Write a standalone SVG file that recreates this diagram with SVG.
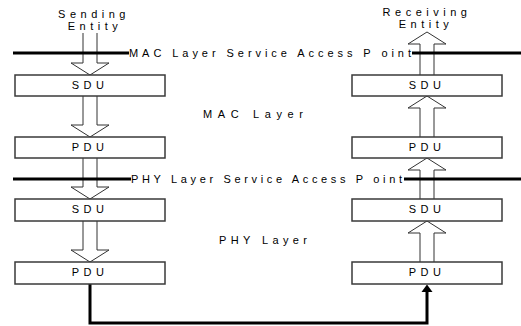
<svg xmlns="http://www.w3.org/2000/svg" width="521" height="326" viewBox="0 0 521 326">
<style>
text{font-family:"Liberation Sans",Arial,sans-serif;font-size:11px;fill:#000;}
.lbl{text-anchor:middle;letter-spacing:4.5px;}
.box{fill:#fff;stroke:#3a3a3a;stroke-width:1.5;}
.arr{fill:#fff;stroke:#333;stroke-width:1;}
.sap{stroke:#000;stroke-width:3;fill:none;}
.wire{stroke:#000;stroke-width:3;fill:none;}
</style>
<rect width="521" height="326" fill="#fff"/>
<g id="connectors">
<!-- left side, downward -->
<polyline class="arr" points="83,33 83,63 71,63 90,75 109,63 97,63 97,33"/>
<polyline class="arr" points="83,96 83,125 71,125 90,137 109,125 97,125 97,96"/>
<polyline class="arr" points="83,158 83,187 71,187 90,199 109,187 97,187 97,158"/>
<polyline class="arr" points="83,221 83,250 71,250 90,262 109,250 97,250 97,221"/>
<!-- right side, upward -->
<polyline class="arr" points="420,75 420,44 408,44 427,32 446,44 434,44 434,75"/>
<polyline class="arr" points="420,137 420,108 408,108 427,96 446,108 434,108 434,137"/>
<polyline class="arr" points="420,199 420,170 408,170 427,158 446,170 434,170 434,199"/>
<polyline class="arr" points="420,262 420,233 408,233 427,221 446,233 434,233 434,262"/>
<!-- physical link -->
<path class="wire" d="M90,284 V323 H427 V291"/>
<path d="M421.5,292 L427,284.5 L432.5,292 Z" fill="#000"/>
</g>
<g id="sending-entity"><text class="lbl" x="94" y="18">Sending</text><text class="lbl" x="95" y="30">Entity</text></g>
<g id="receiving-entity"><text class="lbl" x="427" y="16">Receiving</text><text class="lbl" x="426" y="28">Entity</text></g>
<g id="left-mac-sdu"><rect class="box" x="15" y="75" width="150" height="21"/><text class="lbl" x="90" y="89">SDU</text></g>
<g id="left-mac-pdu"><rect class="box" x="15" y="137" width="150" height="21"/><text class="lbl" x="90" y="151">PDU</text></g>
<g id="left-phy-sdu"><rect class="box" x="15" y="199" width="150" height="22"/><text class="lbl" x="90" y="213">SDU</text></g>
<g id="left-phy-pdu"><rect class="box" x="15" y="262" width="150" height="22"/><text class="lbl" x="90" y="276">PDU</text></g>
<g id="right-mac-sdu"><rect class="box" x="352" y="75" width="150" height="21"/><text class="lbl" x="427" y="89">SDU</text></g>
<g id="right-mac-pdu"><rect class="box" x="352" y="137" width="150" height="21"/><text class="lbl" x="427" y="151">PDU</text></g>
<g id="right-phy-sdu"><rect class="box" x="352" y="199" width="150" height="22"/><text class="lbl" x="427" y="213">SDU</text></g>
<g id="right-phy-pdu"><rect class="box" x="352" y="262" width="150" height="22"/><text class="lbl" x="427" y="276">PDU</text></g>
<g id="mac-sap">
<path class="sap" d="M13,53 H129 M412,53 H521"/>
<text x="129" y="57" textLength="282" lengthAdjust="spacing">MAC Layer Service Access P oint</text>
</g>
<g id="phy-sap">
<path class="sap" d="M13,179 H131 M404,179 H521"/>
<text x="131" y="183" textLength="271" lengthAdjust="spacing">PHY Layer Service Access P oint</text>
</g>
<g id="mac-layer"><text x="203" y="118" textLength="100" lengthAdjust="spacing">MAC Layer</text></g>
<g id="phy-layer"><text x="219" y="244" textLength="88" lengthAdjust="spacing">PHY Layer</text></g>
</svg>
